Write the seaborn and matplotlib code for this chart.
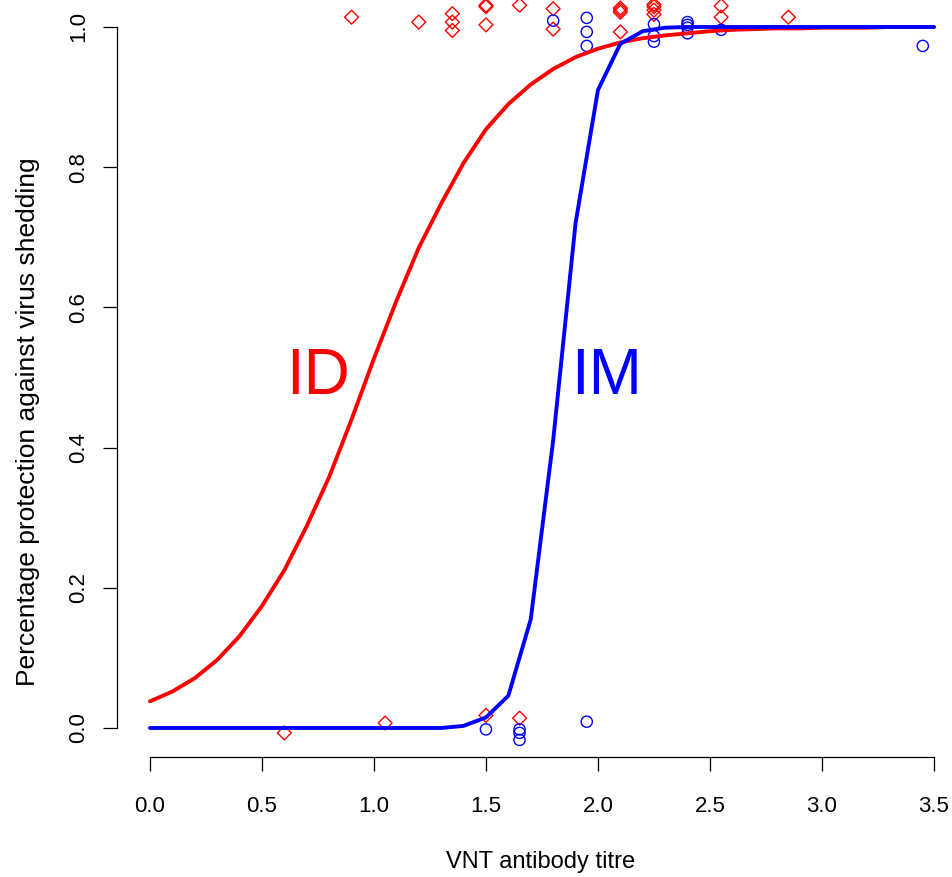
import matplotlib
matplotlib.use("Agg")
import matplotlib.pyplot as plt
import seaborn as sns

# fitted curves, evaluated on a titre grid
titre_grid = [0.0, 0.1, 0.2, 0.3, 0.4, 0.5, 0.6, 0.7, 0.8, 0.9, 1.0, 1.1,
              1.2, 1.3, 1.4, 1.5, 1.6, 1.7, 1.8, 1.9, 2.0, 2.1, 2.2, 2.3,
              2.4, 2.5, 2.6, 2.7, 2.8, 2.9, 3.0, 3.1, 3.2, 3.3, 3.4, 3.5]
id_fit = [0.038, 0.052, 0.071, 0.097, 0.131, 0.174, 0.225, 0.288, 0.358, 0.440,
          0.527, 0.609, 0.685, 0.748, 0.806, 0.854, 0.890, 0.918, 0.940, 0.957,
          0.969, 0.978, 0.984, 0.988, 0.991, 0.994, 0.996, 0.997, 0.998, 0.998,
          0.999, 0.999, 0.999, 1.0, 1.0, 1.0]
im_fit = [0.0, 0.0, 0.0, 0.0, 0.0, 0.0, 0.0, 0.0, 0.0, 0.0,
          0.0, 0.0, 0.0, 0.0, 0.003, 0.015, 0.046, 0.155, 0.41, 0.72,
          0.91, 0.976, 0.994, 0.999, 1.0, 1.0, 1.0, 1.0, 1.0, 1.0,
          1.0, 1.0, 1.0, 1.0, 1.0, 1.0]

# observed (jittered) outcomes
id_x = [0.9, 1.2, 1.35, 1.35, 1.35, 1.5, 1.5, 1.5, 1.65, 1.8, 1.8,
        2.1, 2.1, 2.1, 2.1, 2.25, 2.25, 2.25, 2.25, 2.55, 2.55, 2.85,
        0.6, 1.05, 1.5, 1.65]
id_y = [1.014, 1.007, 1.019, 1.007, 0.995, 1.031, 1.029, 1.003, 1.031, 1.026, 0.997,
        1.027, 1.024, 1.021, 0.993, 1.032, 1.029, 1.024, 1.018, 1.030, 1.014, 1.014,
        -0.007, 0.007, 0.018, 0.014]
im_x = [1.8, 1.95, 1.95, 1.95, 2.25, 2.25, 2.25, 2.4, 2.4, 2.4, 2.4, 2.55, 3.45,
        1.5, 1.65, 1.65, 1.65, 1.95]
im_y = [1.009, 1.013, 0.993, 0.973, 1.004, 0.987, 0.979, 1.007, 1.003, 0.999, 0.991,
        0.996, 0.973, -0.002, -0.002, -0.007, -0.017, 0.009]

x_ticks = [0.0, 0.5, 1.0, 1.5, 2.0, 2.5, 3.0, 3.5]
y_ticks = [0.0, 0.2, 0.4, 0.6, 0.8, 1.0]

sns.set_theme(style="ticks")
plt.rcParams['font.family'] = ['Liberation Sans', 'DejaVu Sans']

W, H = 953, 877
fig = plt.figure(figsize=(W / 100, H / 100), dpi=100)
# axes box in pixels: left 117, right 953, top 0, bottom 757
ax = fig.add_axes([117 / W, (H - 757) / H, (W - 117) / W, 757 / H])

sns.lineplot(x=titre_grid, y=id_fit, color='#ff0000', linewidth=2.8, ax=ax)
sns.lineplot(x=titre_grid, y=im_fit, color='#0000ff', linewidth=2.8, ax=ax)
sns.scatterplot(x=id_x, y=id_y, marker='D', s=50, facecolors='none',
                edgecolors='#ff0000', linewidth=1.0, ax=ax)
sns.scatterplot(x=im_x, y=im_y, marker='o', s=65, facecolors='none',
                edgecolors='#0000ff', linewidth=1.0, ax=ax)

ax.text(0.75, 0.5, 'ID', color='#ff0000', fontsize=46, ha='center', va='center')
ax.text(2.04, 0.5, 'IM', color='#0000ff', fontsize=46, ha='center', va='center')

ax.set_xlim(-0.147, 3.585)
ax.set_ylim(-0.0414, 1.0385)
ax.set_xticks(x_ticks)
ax.set_xticklabels([f'{v:.1f}' for v in x_ticks])
ax.set_yticks(y_ticks)
ax.set_yticklabels([f'{v:.1f}' for v in y_ticks], rotation=90, va='center')

for side in ['top', 'right']:
    ax.spines[side].set_visible(False)
ax.spines['left'].set_bounds(0, 1)
ax.spines['bottom'].set_bounds(0, 3.5)
for side in ['left', 'bottom']:
    ax.spines[side].set_linewidth(0.9)
    ax.spines[side].set_color('black')

ax.tick_params(axis='both', length=10, width=0.9, color='black',
               labelsize=16, labelcolor='black')
ax.tick_params(axis='x', pad=18)
ax.tick_params(axis='y', pad=10)

ax.set_xlabel('VNT antibody titre', fontsize=17, color='black')
ax.set_ylabel('Percentage protection against virus shedding', fontsize=19, color='black')
ax.xaxis.set_label_coords((541 - 117) / (W - 117), (757 - 862) / 757)
ax.xaxis.label.set_va('center')
ax.yaxis.set_label_coords((28 - 117) / (W - 117), (757 - 422) / 757)
ax.yaxis.label.set_va('center')

fig.savefig('out.png', dpi=100)
